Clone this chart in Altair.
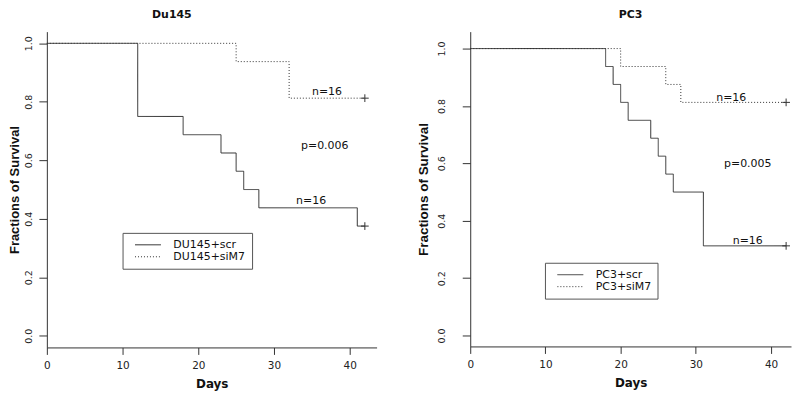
import altair as alt
import pandas as pd

# ---------------- data ----------------
x_ticks = [0, 10, 20, 30, 40]
y_ticks = [0.0, 0.2, 0.4, 0.6, 0.8, 1.0]
censor_day = 42

# Du145 panel
du_groups = ["DU145+scr", "DU145+siM7"]
du_scr_days = [0, 12, 18, 23, 25, 26, 28, 41, 42]
du_scr_surv = [1.0, 0.75, 0.6875, 0.625, 0.5625, 0.5, 0.4375, 0.375, 0.375]
du_si_days = [0, 25, 32, 42]
du_si_surv = [1.0, 0.9375, 0.8125, 0.8125]
du_note_text = ["n=16", "p=0.006", "n=16"]
du_note_day = [37.0, 36.7, 34.9]
du_note_surv = [0.833, 0.65, 0.461]

# PC3 panel
pc_groups = ["PC3+scr", "PC3+siM7"]
pc_scr_days = [0, 18, 19, 20, 21, 24, 25, 26, 27, 31, 42]
pc_scr_surv = [1.0, 0.9375, 0.875, 0.8125, 0.75, 0.6875, 0.625, 0.5625, 0.5, 0.3125, 0.3125]
pc_si_days = [0, 20, 26, 28, 42]
pc_si_surv = [1.0, 0.9375, 0.875, 0.8125, 0.8125]
pc_note_text = ["n=16", "p=0.005", "n=16"]
pc_note_day = [34.7, 36.9, 36.9]
pc_note_surv = [0.826, 0.597, 0.33]

INK = "#333333"


def panel(title, title_dx, groups, scr_days, scr_surv, si_days, si_surv,
          note_text, note_day, note_surv, width, height, xmax, ymin, ymax,
          leg_x, leg_y, leg_tail, lab_pad, title_pad, ytitle_size):
    curve = pd.DataFrame({
        "day": scr_days + si_days,
        "surv": scr_surv + si_surv,
        "group": [groups[0]] * len(scr_days) + [groups[1]] * len(si_days),
    })
    cens = pd.DataFrame({
        "day": [censor_day, censor_day],
        "surv": [scr_surv[-1], si_surv[-1]],
        "group": groups,
    })
    notes = pd.DataFrame({"day": note_day, "surv": note_surv, "text": note_text})

    xsc = alt.Scale(domain=[0, xmax], nice=False, zero=False)
    ysc = alt.Scale(domain=[ymin, ymax], nice=False, zero=False)
    xax = alt.Axis(values=x_ticks, title="Days", grid=False, tickSize=7,
                   labelPadding=6, labelFont="DejaVu Sans", labelFontSize=10.5,
                   labelColor="#222", titleFont="DejaVu Sans", titleFontSize=12,
                   titleFontWeight="bold", titleColor="#111", titlePadding=8,
                   domainColor=INK, tickColor=INK, labelFlush=False)
    yax = alt.Axis(values=y_ticks, format=".1f", title="Fractions of Survival",
                   grid=False, tickSize=8, labelAngle=270, labelAlign="center",
                   labelBaseline="bottom", labelPadding=lab_pad,
                   labelFont="DejaVu Sans", labelFontSize=9.5, labelColor="#222",
                   titleFont="Liberation Sans", titleFontSize=ytitle_size,
                   titleFontWeight="bold", titleColor="#111",
                   titlePadding=title_pad, domainColor=INK, tickColor=INK,
                   labelFlush=False)

    lines = alt.Chart(curve).mark_line(
        interpolate="step-after", color=INK, strokeWidth=1
    ).encode(
        x=alt.X("day:Q", scale=xsc, axis=xax),
        y=alt.Y("surv:Q", scale=ysc, axis=yax),
        strokeDash=alt.StrokeDash(
            "group:N",
            scale=alt.Scale(domain=groups, range=[[1, 0], [1, 2]]),
            legend=alt.Legend(
                title=None, orient="none", legendX=leg_x, legendY=leg_y,
                symbolType="stroke", symbolSize=676, symbolStrokeWidth=1,
                symbolStrokeColor=INK, strokeColor="#555", fillColor="white",
                padding=6, symbolOffset=6, labelOffset=12, rowPadding=0,
                clipHeight=12, labelExpr="datum.label + '" + leg_tail + "'",
                labelFont="DejaVu Sans", labelFontSize=11, labelColor="#111",
            ),
        ),
        order=alt.Order("day:Q"),
    )
    plus = alt.Chart(cens).mark_point(
        shape="M-1,0L1,0M0,-1L0,1", size=60, color=INK, strokeWidth=1,
        filled=False, opacity=1
    ).encode(x=alt.X("day:Q", scale=xsc), y=alt.Y("surv:Q", scale=ysc))
    text = alt.Chart(notes).mark_text(
        font="DejaVu Sans", fontSize=11, color="#111"
    ).encode(x=alt.X("day:Q", scale=xsc), y=alt.Y("surv:Q", scale=ysc),
             text="text:N")

    return alt.layer(lines, plus, text).properties(
        width=width, height=height,
        title=alt.TitleParams(title, dx=title_dx, font="DejaVu Sans",
                              fontSize=11, fontWeight="bold", color="#111",
                              anchor="middle", offset=12),
    )


left = panel("Du145", -40, du_groups, du_scr_days, du_scr_surv, du_si_days,
             du_si_surv, du_note_text, du_note_day, du_note_surv,
             331, 317, 43.55, -0.04, 1.04, 76, 202, "\u2002\u2002",
             5, 2, 13)
right = panel("PC3", 0, pc_groups, pc_scr_days, pc_scr_surv, pc_si_days,
              pc_si_surv, pc_note_text, pc_note_day, pc_note_surv,
              322, 316, 42.65, -0.038, 1.059, 75, 232, "\u2002\u00a0",
              16, 6, 13.5)

chart = alt.hconcat(left, right, spacing=40).resolve_scale(
    strokeDash="independent", x="independent", y="independent"
).properties(padding=0, background="white").configure_view(strokeWidth=0)

chart.save("out.html", embed_options={"renderer": "svg", "actions": False})
